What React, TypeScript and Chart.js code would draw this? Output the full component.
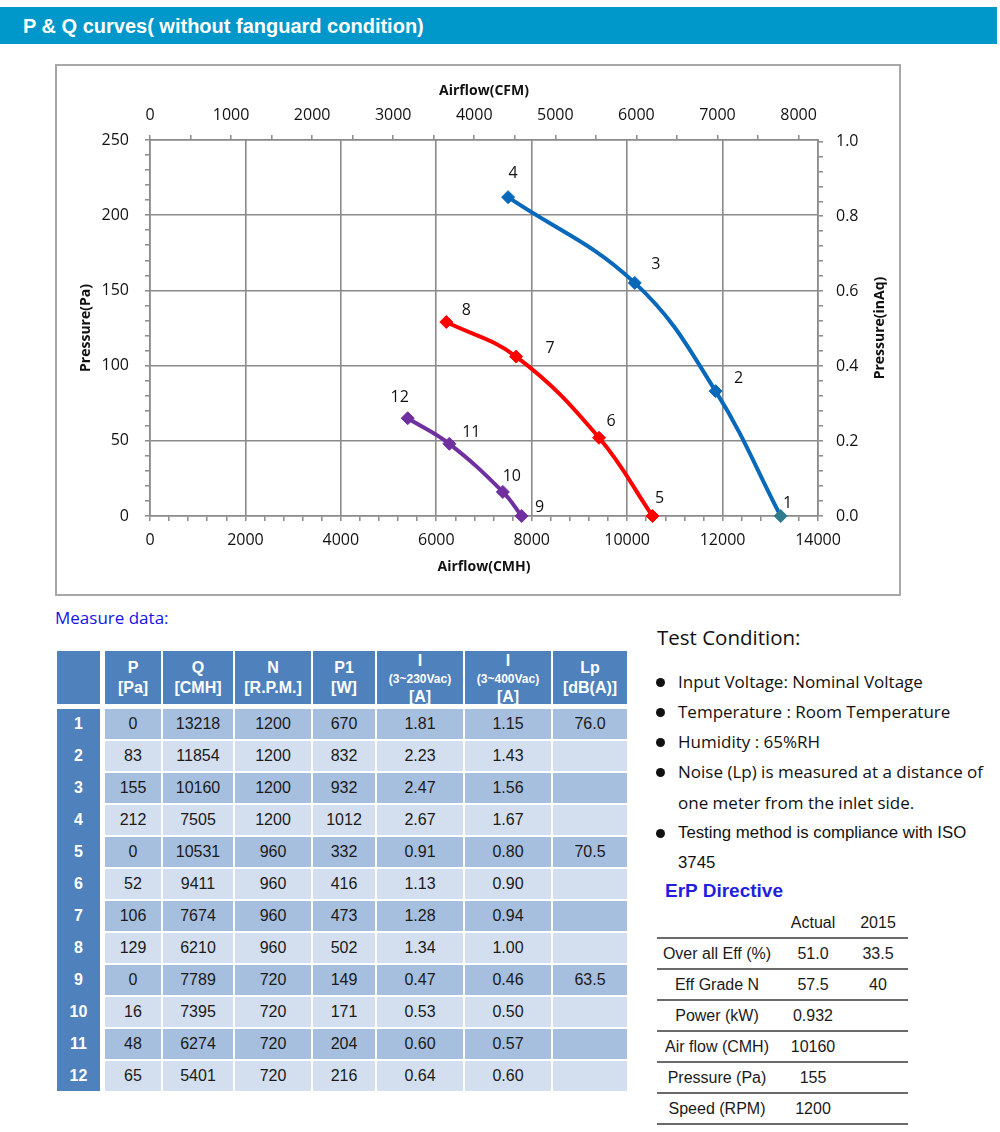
import React, { useEffect, useRef } from 'react';
import { Chart, registerables } from 'chart.js';

Chart.register(...registerables);

// ---------------- Data ----------------
const curve1200Q = [13218, 11854, 10160, 7505];
const curve1200P = [0, 83, 155, 212];
const curve1200Names = ['1', '2', '3', '4'];

const curve960Q = [10531, 9411, 7674, 6210];
const curve960P = [0, 52, 106, 129];
const curve960Names = ['5', '6', '7', '8'];

const curve720Q = [7789, 7395, 6274, 5401];
const curve720P = [0, 16, 48, 65];
const curve720Names = ['9', '10', '11', '12'];

const cmhMax = 14000;
const cmhMajor = 2000;
const cmhMinor = 400;
const paMax = 250;
const paMajor = 50;
const paMinor = 10;
const cmhPerCfm = 1.699;
const cfmMajor = 1000;
const cfmMinor = 500;
const cfmLastTick = 8000;
const paPerInAq = 249.09;
const inAqMajor = 0.2;
const inAqMinor = 0.04;
const inAqLastTick = 1.0;

const rowNo = ['1', '2', '3', '4', '5', '6', '7', '8', '9', '10', '11', '12'];
const colP = ['0', '83', '155', '212', '0', '52', '106', '129', '0', '16', '48', '65'];
const colQ = ['13218', '11854', '10160', '7505', '10531', '9411', '7674', '6210', '7789', '7395', '6274', '5401'];
const colN = ['1200', '1200', '1200', '1200', '960', '960', '960', '960', '720', '720', '720', '720'];
const colP1 = ['670', '832', '932', '1012', '332', '416', '473', '502', '149', '171', '204', '216'];
const colI230 = ['1.81', '2.23', '2.47', '2.67', '0.91', '1.13', '1.28', '1.34', '0.47', '0.53', '0.60', '0.64'];
const colI400 = ['1.15', '1.43', '1.56', '1.67', '0.80', '0.90', '0.94', '1.00', '0.46', '0.50', '0.57', '0.60'];
const colLp = ['76.0', '', '', '', '70.5', '', '', '', '63.5', '', '', ''];

const testConditions = [
  'Input Voltage: Nominal Voltage',
  'Temperature : Room Temperature',
  'Humidity : 65%RH',
  'Noise (Lp) is measured at a distance of',
  'Testing method is compliance with ISO',
];
const testContinuations = ['one meter from the inlet side.', '3745'];

const erpLabels = ['Over all Eff (%)', 'Eff Grade N', 'Power (kW)', 'Air flow (CMH)', 'Pressure (Pa)', 'Speed (RPM)'];
const erpActual = ['51.0', '57.5', '0.932', '10160', '155', '1200'];
const erp2015 = ['33.5', '40', '', '', '', ''];

// ---------------- Styles ----------------
const BLUE = '#0868BA';
const TEAL = '#2F7B8C';
const RED = '#FF0000';
const PURPLE = '#7030A0';
const GRID = '#8a8a8a';
const SANS = '"Open Sans", "Noto Sans", sans-serif';
const ARIAL = '"Liberation Sans", Arial, sans-serif';

// label offsets (px) relative to each point, per dataset
const LABEL_OFFSETS = [
  [[7, -13], [23, -13], [21, -18], [5, -24]],
  [[7, -18], [12, -16], [34, -8], [20, -12]],
  [[18, -9], [9, -15], [22, -11], [-8, -21]],
];
const POINT_NAMES = [curve1200Names, curve960Names, curve720Names];

const isStep = (v: number, step: number) => Math.abs(v / step - Math.round(v / step)) < 1e-6;
const tickList = (last: number, step: number) => {
  const out: { value: number }[] = [];
  const n = Math.round(last / step);
  for (let k = 0; k <= n; k++) out.push({ value: Math.round(k * step * 1e6) / 1e6 });
  return out;
};

const pointLabelPlugin = {
  id: 'pointLabelPlugin',
  afterDatasetsDraw(chart: any) {
    const ctx = chart.ctx;
    ctx.save();
    ctx.font = `16px ${SANS}`;
    ctx.fillStyle = '#111';
    ctx.textAlign = 'center';
    ctx.textBaseline = 'middle';
    chart.data.datasets.forEach((_ds: any, di: number) => {
      const meta = chart.getDatasetMeta(di);
      meta.data.forEach((el: any, i: number) => {
        const [dx, dy] = LABEL_OFFSETS[di][i];
        ctx.fillText(POINT_NAMES[di][i], el.x + dx, el.y + dy);
      });
    });
    // right axis title, reading bottom-to-top
    const y2 = chart.scales.y2;
    ctx.translate(y2.right - 20, (y2.top + y2.bottom) / 2);
    ctx.rotate(-Math.PI / 2);
    ctx.font = `bold 14px ${SANS}`;
    ctx.fillStyle = '#111';
    ctx.fillText('Pressure(inAq)', 0, 0);
    ctx.restore();
  },
};

function PQChart() {
  const ref = useRef<HTMLCanvasElement>(null);
  useEffect(() => {
    const canvas = ref.current!;
    const tickFont = { family: SANS, size: 16 };
    const titleFont = { family: SANS, size: 14, weight: 'bold' as const };
    const mk = (q: number[], p: number[]) => q.map((x, i) => ({ x, y: p[i] }));
    const line = (data: any, color: string, pointColors: string[]) => ({
      data,
      showLine: true,
      borderColor: color,
      backgroundColor: color,
      borderWidth: 4,
      tension: 0.4,
      pointStyle: 'rectRot',
      pointRadius: 6.5,
      pointBorderWidth: 1,
      pointBackgroundColor: pointColors,
      pointBorderColor: pointColors,
      clip: false,
    });
    const baseGrid = { tickColor: GRID, tickLength: 5, tickWidth: 1.5, lineWidth: 1.6 };
    const border = { display: true, color: GRID, width: 1.6 };
    const tickBase = { autoSkip: false, maxRotation: 0, minRotation: 0, font: tickFont, color: '#111' };
    const chart = new Chart(canvas, {
      type: 'scatter',
      data: {
        datasets: [
          line(mk(curve1200Q, curve1200P), BLUE, [TEAL, BLUE, BLUE, BLUE]),
          line(mk(curve960Q, curve960P), RED, [RED, RED, RED, RED]),
          line(mk(curve720Q, curve720P), PURPLE, [PURPLE, PURPLE, PURPLE, PURPLE]),
        ] as any,
      },
      options: {
        responsive: false,
        animation: false,
        events: [],
        layout: { padding: 0 },
        plugins: { legend: { display: false }, tooltip: { enabled: false } },
        scales: {
          x: {
            type: 'linear',
            position: 'bottom',
            min: 0,
            max: cmhMax,
            bounds: 'data',
            afterBuildTicks: (s: any) => { s.ticks = tickList(cmhMax, cmhMinor); },
            afterFit: (s: any) => { s.height = 79; },
            ticks: { ...tickBase, padding: 10, callback: (v: any) => (isStep(v, cmhMajor) ? String(v) : '') },
            grid: { ...baseGrid, color: (c: any) => (c.tick && isStep(c.tick.value, cmhMajor) ? GRID : 'rgba(0,0,0,0)') },
            border,
            title: { display: true, text: 'Airflow(CMH)', font: titleFont, color: '#111', padding: { top: 0, bottom: 20 } },
          },
          x2: {
            type: 'linear',
            position: 'top',
            min: 0,
            max: cmhMax / cmhPerCfm,
            bounds: 'data',
            afterBuildTicks: (s: any) => { s.ticks = tickList(cfmLastTick, cfmMinor); },
            afterFit: (s: any) => { s.height = 75; },
            ticks: { ...tickBase, padding: 10, callback: (v: any) => (isStep(v, cfmMajor) ? String(v) : '') },
            grid: { ...baseGrid, drawOnChartArea: false, color: GRID },
            border,
            title: { display: true, text: 'Airflow(CFM)', font: titleFont, color: '#111', padding: { top: 18, bottom: 0 } },
          },
          y: {
            type: 'linear',
            position: 'left',
            min: 0,
            max: paMax,
            bounds: 'data',
            afterBuildTicks: (s: any) => { s.ticks = tickList(paMax, paMinor); },
            afterFit: (s: any) => { s.width = 94; },
            ticks: { ...tickBase, padding: 16, callback: (v: any) => (isStep(v, paMajor) ? String(v) : '') },
            grid: { ...baseGrid, color: (c: any) => (c.tick && isStep(c.tick.value, paMajor) ? GRID : 'rgba(0,0,0,0)') },
            border,
            title: { display: true, text: 'Pressure(Pa)', font: titleFont, color: '#111', padding: { top: 22, bottom: 0 } },
          },
          y2: {
            type: 'linear',
            position: 'right',
            min: 0,
            max: paMax / paPerInAq,
            bounds: 'data',
            afterBuildTicks: (s: any) => { s.ticks = tickList(inAqLastTick, inAqMinor); },
            afterFit: (s: any) => { s.width = 82; },
            ticks: { ...tickBase, padding: 13, callback: (v: any) => (isStep(v, inAqMajor) ? Number(v).toFixed(1) : '') },
            grid: { ...baseGrid, drawOnChartArea: false, color: GRID },
            border,
          },
        },
      } as any,
      plugins: [pointLabelPlugin],
    });
    return () => chart.destroy();
  }, []);
  return (
    <canvas
      ref={ref}
      width={844}
      height={530}
      style={{ position: 'absolute', left: 56, top: 65, width: 844, height: 530 }}
    />
  );
}

// ---------------- Layout helpers ----------------
const TABLE_COLS: [number, number][] = [
  [105, 161], [163, 233], [235, 311], [313, 375], [377, 463], [465, 551], [553, 627],
];
const HEAD_BLUE = '#4F81BD';
const ROW_DARK = '#A7BFDE';
const ROW_LIGHT = '#D3DFEE';

function Text(props: { x: number; y: number; text: string; align?: 'left' | 'center'; size?: number; font?: string; color?: string; bold?: boolean; w?: number }) {
  const { x, y, text, align = 'left', size = 16, font = ARIAL, color = '#111', bold = false, w = 300 } = props;
  const lh = Math.round(size * 1.4);
  const left = align === 'center' ? x - w / 2 : x;
  return (
    <div
      style={{
        position: 'absolute',
        left,
        top: y - lh / 2,
        width: w,
        height: lh,
        lineHeight: `${lh}px`,
        fontFamily: font,
        fontSize: size,
        fontWeight: bold ? 'bold' : 'normal',
        color,
        textAlign: align,
        whiteSpace: 'nowrap',
      }}
    >
      {text}
    </div>
  );
}

function MeasureTable() {
  const headers: { lines: { t: string; small?: boolean }[] }[] = [
    { lines: [{ t: 'P' }, { t: '[Pa]' }] },
    { lines: [{ t: 'Q' }, { t: '[CMH]' }] },
    { lines: [{ t: 'N' }, { t: '[R.P.M.]' }] },
    { lines: [{ t: 'P1' }, { t: '[W]' }] },
    { lines: [{ t: 'I' }, { t: '(3~230Vac)', small: true }, { t: '[A]' }] },
    { lines: [{ t: 'I' }, { t: '(3~400Vac)', small: true }, { t: '[A]' }] },
    { lines: [{ t: 'Lp' }, { t: '[dB(A)]' }] },
  ];
  const cols = [colP, colQ, colN, colP1, colI230, colI400, colLp];
  const HEAD_TOP = 651;
  const HEAD_H = 53;
  const ROW_TOP = 709;
  const ROW_PITCH = 32;
  const ROW_H = 30;
  const els: any[] = [];
  els.push(<div key="hidx" style={{ position: 'absolute', left: 57, top: HEAD_TOP, width: 43, height: HEAD_H, background: HEAD_BLUE }} />);
  headers.forEach((h, ci) => {
    const [l, r] = TABLE_COLS[ci];
    const cx = (l + r) / 2;
    els.push(<div key={'h' + ci} style={{ position: 'absolute', left: l, top: HEAD_TOP, width: r - l, height: HEAD_H, background: HEAD_BLUE, overflow: 'hidden' }} />);
    const ys = h.lines.length === 2 ? [668, 688] : [661, 679, 697];
    h.lines.forEach((ln, li) => {
      els.push(
        <Text key={'ht' + ci + '_' + li} x={cx} y={ys[li]} text={ln.t} align="center" w={100} bold color="#fff" size={ln.small ? 12 : 16} />
      );
    });
  });
  els.push(<div key="idxcol" style={{ position: 'absolute', left: 57, top: ROW_TOP, width: 43, height: ROW_PITCH * 11 + ROW_H, background: HEAD_BLUE }} />);
  rowNo.forEach((n, ri) => {
    const top = ROW_TOP + ri * ROW_PITCH;
    const cy = top + ROW_H / 2;
    els.push(<Text key={'rn' + ri} x={78.5} y={cy} text={n} align="center" w={40} bold color="#fff" />);
    cols.forEach((col, ci) => {
      const [l, r] = TABLE_COLS[ci];
      els.push(
        <div key={'c' + ri + '_' + ci} style={{ position: 'absolute', left: l, top, width: r - l, height: ROW_H, background: ri % 2 === 0 ? ROW_DARK : ROW_LIGHT }} />
      );
      if (col[ri]) els.push(<Text key={'ct' + ri + '_' + ci} x={(l + r) / 2} y={cy} text={col[ri]} align="center" w={100} color="#1a1a1a" />);
    });
  });
  return <>{els}</>;
}

function TestConditions() {
  const ys = [682, 712, 742, 772, 833];
  const contYs = [803, 863];
  return (
    <>
      <Text x={657} y={637} text="Test Condition:" size={20.5} font={SANS} color="#111" />
      {testConditions.map((t, i) => (
        <React.Fragment key={i}>
          <div style={{ position: 'absolute', left: 656, top: ys[i] - 4.5, width: 9, height: 9, borderRadius: '50%', background: '#111' }} />
          <Text x={678} y={ys[i]} text={t} size={i === 4 ? 16.8 : 17} font={i === 4 ? ARIAL : SANS} color="#111" />
        </React.Fragment>
      ))}
      <Text x={678} y={contYs[0]} text={testContinuations[0]} size={17} font={SANS} color="#111" />
      <Text x={678} y={contYs[1]} text={testContinuations[1]} size={16.8} font={ARIAL} color="#111" />
    </>
  );
}

function ErpTable() {
  const lineYs = [938, 969, 1000, 1031, 1062, 1093, 1124];
  const rowYs = [954, 985, 1016, 1047, 1078, 1109];
  return (
    <>
      <Text x={665} y={890} text="ErP Directive" size={19} bold color="#1f1fe0" />
      <Text x={813} y={923} text="Actual" align="center" w={100} size={16} color="#1a1a1a" />
      <Text x={878} y={923} text="2015" align="center" w={100} size={16} color="#1a1a1a" />
      {lineYs.map((y, i) => (
        <div key={'l' + i} style={{ position: 'absolute', left: 657, top: y - 1, width: 251, height: 2, background: '#6a6a6a' }} />
      ))}
      {erpLabels.map((lab, i) => (
        <React.Fragment key={i}>
          <Text x={717} y={rowYs[i]} text={lab} align="center" w={140} size={16} color="#1a1a1a" />
          <Text x={813} y={rowYs[i]} text={erpActual[i]} align="center" w={100} size={16} color="#1a1a1a" />
          {erp2015[i] ? <Text x={878} y={rowYs[i]} text={erp2015[i]} align="center" w={100} size={16} color="#1a1a1a" /> : null}
        </React.Fragment>
      ))}
    </>
  );
}

export default function App() {
  return (
    <div style={{ position: 'absolute', left: 0, top: 0, width: 1000, height: 1132, background: '#fff', overflow: 'hidden' }}>
      <div style={{ position: 'absolute', left: 0, top: 7, width: 997, height: 37, background: '#0098CB' }} />
      <Text x={23} y={26} text="P & Q curves( without fanguard condition)" size={20} bold color="#fff" w={600} />
      <div style={{ position: 'absolute', left: 55, top: 64, width: 846, height: 532, border: '2px solid #a8a8a8', boxSizing: 'border-box' }} />
      <PQChart />
      <Text x={55} y={618} text="Measure data:" size={17} font={SANS} color="#1414e6" />
      <MeasureTable />
      <TestConditions />
      <ErpTable />
    </div>
  );
}
